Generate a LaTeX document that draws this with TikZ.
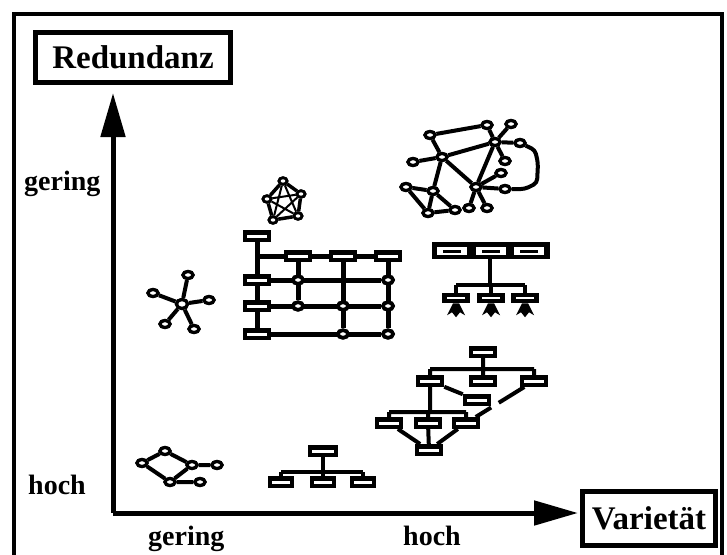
\documentclass[tikz,border=0pt]{standalone}
\usepackage{fontspec}
\setmainfont{Liberation Serif}
\usetikzlibrary{arrows.meta,shapes.geometric}
\tikzset{
  nd/.style={ellipse, draw, fill=white, line width=3.2pt, minimum width=10pt, minimum height=7pt, inner sep=0pt},
  cnd/.style={ellipse, draw, fill=white, line width=3.6pt, minimum width=10pt, minimum height=7.5pt, inner sep=0pt},
  snd/.style={ellipse, draw, fill=white, line width=2.8pt, minimum width=8pt, minimum height=6.5pt, inner sep=0pt},
  rb/.style={rectangle, draw, fill=white, line width=4.5pt, minimum width=24pt, minimum height=7.5pt, inner sep=0pt},
  ed/.style={line width=4pt, line join=round},
  ted/.style={line width=2pt},
  ttl/.style={rectangle, draw, line width=5pt, inner sep=0pt, font=\fontsize{33}{38}\selectfont\bfseries},
  lbl/.style={inner sep=0pt, anchor=base west, font=\fontsize{28}{32}\selectfont\bfseries},
  axis/.style={line width=5pt, -{Triangle[length=44pt,width=24pt]}},
}
\begin{document}
\begin{tikzpicture}[x=1pt,y=-1pt]
\useasboundingbox (0,0) rectangle (727,554);
% frame
\draw[line width=4pt] (14,560) -- (14,14) -- (722,14) -- (722,560);
% titles
\node[ttl, minimum width=195pt, minimum height=50pt] (red) at (133,57.5) {Redundanz};
\node[ttl, minimum width=133pt, minimum height=54pt] (var) at (649,518.5) {Varietät};
% axes
\coordinate (O) at (113,513);
\coordinate (ytip) at (113,93);
\coordinate (xtip) at (578,513);
\draw[axis] (O) -- (ytip);
\draw[axis] (O) -- (xtip);
% axis labels
\node[lbl] (g1) at (24,190) {gering};
\node[lbl] (h1) at (28,494) {hoch};
\node[lbl] (g2) at (148,545) {gering};
\node[lbl] (h2) at (403,545) {hoch};

% ---------- big network (top right)
\coordinate (l1) at (535,150);
\coordinate (l2) at (538,163);
\coordinate (l3) at (537,183);
\coordinate (l4) at (525,189);
\node[nd] (A) at (430,135) {};
\node[nd] (B) at (487,125) {};
\node[nd] (C) at (511,124) {};
\node[nd] (D) at (495,142) {};
\node[nd] (E) at (520,143) {};
\node[nd] (F) at (442,157) {};
\node[nd] (G) at (413,162) {};
\node[nd] (H) at (505,161) {};
\node[nd] (I) at (501,173) {};
\node[nd] (J) at (476,187) {};
\node[nd] (K) at (505,189) {};
\node[nd] (L) at (406,187) {};
\node[nd] (M) at (433,191) {};
\node[nd] (N) at (428,213) {};
\node[nd] (Oo) at (455,210) {};
\node[nd] (P) at (469,208) {};
\node[nd] (Q) at (487,208) {};
\draw[ed] (A) -- (B) (A) -- (F) (G) -- (F) (F) -- (D) (B) -- (D) (C) -- (D) (D) -- (E)
  (D) -- (J) (F) -- (J) (F) -- (M) (J) -- (I) (D) -- (H) (J) -- (K) (J) -- (Q) (J) -- (P)
  (L) -- (M) (L) -- (N) (M) -- (N) (M) -- (Oo) (N) -- (Oo);
\draw[ed, rounded corners=4pt] (E) -- (l1) -- (l2) -- (l3) -- (l4) -- (K);
\foreach \n in {A,B,C,D,E,F,G,H,I,J,K,L,M,N,Oo,P,Q} \node[nd] at (\n) {};

% ---------- K5 pentagon
\node[snd] (p1) at (283,181) {};
\node[snd] (p2) at (301,194) {};
\node[snd] (p3) at (267,199) {};
\node[snd] (p4) at (273,220) {};
\node[snd] (p5) at (298,216) {};
\draw[line width=3.5pt, line join=round] (p1) -- (p2) -- (p5) -- (p4) -- (p3) -- (p1);
\draw[ted] (p1) -- (p4) (p1) -- (p5) (p2) -- (p3) (p2) -- (p4) (p3) -- (p5);
\foreach \n in {p1,p2,p3,p4,p5} \node[snd] at (\n) {};

% ---------- grid
\coordinate (v0) at (257,256);
\node[rb] (r0) at (257,236) {};
\node[rb] (r1) at (257,280) {};
\node[rb] (r2) at (257,306) {};
\node[rb] (r3) at (257,334) {};
\node[rb] (t1) at (298,256) {};
\node[rb] (t2) at (343,256) {};
\node[rb] (t3) at (388,256) {};
\node[cnd] (c11) at (298,280) {};
\node[cnd] (c13) at (388,280) {};
\node[cnd] (c21) at (298,306) {};
\node[cnd] (c22) at (343,306) {};
\node[cnd] (c23) at (388,306) {};
\node[cnd] (c32) at (343,334) {};
\node[cnd] (c33) at (388,334) {};
\draw[line width=5pt] (r0) -- (r3) (v0) -- (t3) (r1) -- (c13) (r2) -- (c23) (r3) -- (c33)
  (t1) -- (c21) (t2) -- (c32) (t3) -- (c33);
\foreach \n in {r0,r1,r2,r3,t1,t2,t3} \node[rb] at (\n) {};
\foreach \n in {c11,c13,c21,c22,c23,c32,c33} \node[cnd] at (\n) {};

% ---------- star
\node[nd, minimum width=11pt, minimum height=9pt] (s0) at (182,304) {};
\node[nd] (s1) at (188,275) {};
\node[nd] (s2) at (153,293) {};
\node[nd] (s3) at (209,300) {};
\node[nd] (s4) at (165,324) {};
\node[nd] (s5) at (194,329) {};
\draw[ed] (s0) -- (s1) (s0) -- (s2) (s0) -- (s3) (s0) -- (s4) (s0) -- (s5);
\foreach \n in {s1,s2,s3,s4,s5} \node[nd] at (\n) {};
\node[nd, minimum width=11pt, minimum height=9pt] at (s0) {};

% ---------- block hierarchy (right middle)
\node[rectangle, fill=black, minimum width=118pt, minimum height=17pt, inner sep=0pt] (blk) at (490.5,250.5) {};
\foreach \cx in {452,491,529} {
  \fill[white] (\cx-15,247) rectangle (\cx+15,255);
  \fill[black] (\cx-9,249.5) rectangle (\cx+9,252.5);
}
\coordinate (bj) at (490,285);
\coordinate (bl) at (456,285);
\coordinate (br) at (525,285);
\node[rb, minimum width=23pt, minimum height=6pt] (q1) at (456,298) {};
\node[rb, minimum width=23pt, minimum height=6pt] (q2) at (491,298) {};
\node[rb, minimum width=23pt, minimum height=6pt] (q3) at (525,298) {};
\draw[ed] (blk.south -| bj) -- (bj) (bl) -- (br) (bl) -- (q1) (q2.north |- bj) -- (q2) (br) -- (q3);
\foreach \n in {q1,q2,q3} {
  \node[rb, minimum width=23pt, minimum height=6pt] at (\n) {};
  \fill[black] ([xshift=-3pt]\n.south) -- ([xshift=-9pt,yshift=-12pt]\n.south) -- ([xshift=-4pt,yshift=-9pt]\n.south)
     -- ([yshift=-14pt]\n.south) -- ([xshift=4pt,yshift=-9pt]\n.south) -- ([xshift=9pt,yshift=-12pt]\n.south)
     -- ([xshift=3pt]\n.south) -- cycle;
}

% ---------- hierarchy with dashed link
\coordinate (hj1) at (483,369);
\coordinate (hl1) at (430,369);
\coordinate (hr1) at (534,369);
\coordinate (hj2) at (430,412);
\coordinate (hl2) at (389,412);
\coordinate (hr2) at (466,412);
\node[rb] (h0) at (483,352) {};
\node[rb] (hA) at (430,381) {};
\node[rb] (hB) at (483,381) {};
\node[rb] (hC) at (534,381) {};
\node[rb] (hD) at (477,400) {};
\node[rb] (hE) at (389,423) {};
\node[rb] (hF) at (428,423) {};
\node[rb] (hG) at (466,423) {};
\node[rb] (hH) at (429,450) {};
\draw[ed] (h0) -- (hj1) (hl1) -- (hr1) (hl1) -- (hA) (hj1) -- (hB) (hr1) -- (hC)
  (hA) -- (hD) (hA) -- (hj2) (hl2) -- (hr2) (hl2) -- (hE) (hF.north |- hj2) -- (hF) (hr2) -- (hG)
  (hE) -- (hH) (hF) -- (hH) (hG) -- (hH);
\draw[ed, dash pattern=on 30pt off 9pt, line cap=butt] (hC) -- (hG);
\foreach \n in {h0,hA,hB,hC,hD,hE,hF,hG,hH} \node[rb] at (\n) {};

% ---------- ring (bottom left)
\node[nd] (b1) at (165,451) {};
\node[nd] (b2) at (142,463) {};
\node[nd] (b3) at (192,465) {};
\node[nd] (b4) at (217,465) {};
\node[nd] (b5) at (170,482) {};
\node[nd] (b6) at (200,482) {};
\draw[ed] (b1) -- (b2) (b1) -- (b3) (b2) -- (b5) (b3) -- (b4) (b3) -- (b5) (b5) -- (b6);
\foreach \n in {b1,b2,b3,b4,b5,b6} \node[nd] at (\n) {};

% ---------- small hierarchy (bottom)
\coordinate (gj) at (323,472);
\coordinate (gl) at (281,472);
\coordinate (gr) at (363,472);
\node[rb, minimum width=26pt, minimum height=7.5pt] (g0) at (323,451) {};
\node[rb, minimum width=22pt, minimum height=7.5pt] (gg1) at (281,482) {};
\node[rb, minimum width=22pt, minimum height=7.5pt] (gg2) at (323,482) {};
\node[rb, minimum width=22pt, minimum height=7.5pt] (gg3) at (363,482) {};
\draw[ed] (g0) -- (gj) (gl) -- (gr) (gl) -- (gg1) (gj) -- (gg2) (gr) -- (gg3);
\node[rb, minimum width=26pt, minimum height=7.5pt] at (g0) {};
\foreach \n in {gg1,gg2,gg3} \node[rb, minimum width=22pt, minimum height=7.5pt] at (\n) {};
\end{tikzpicture}
\end{document}
